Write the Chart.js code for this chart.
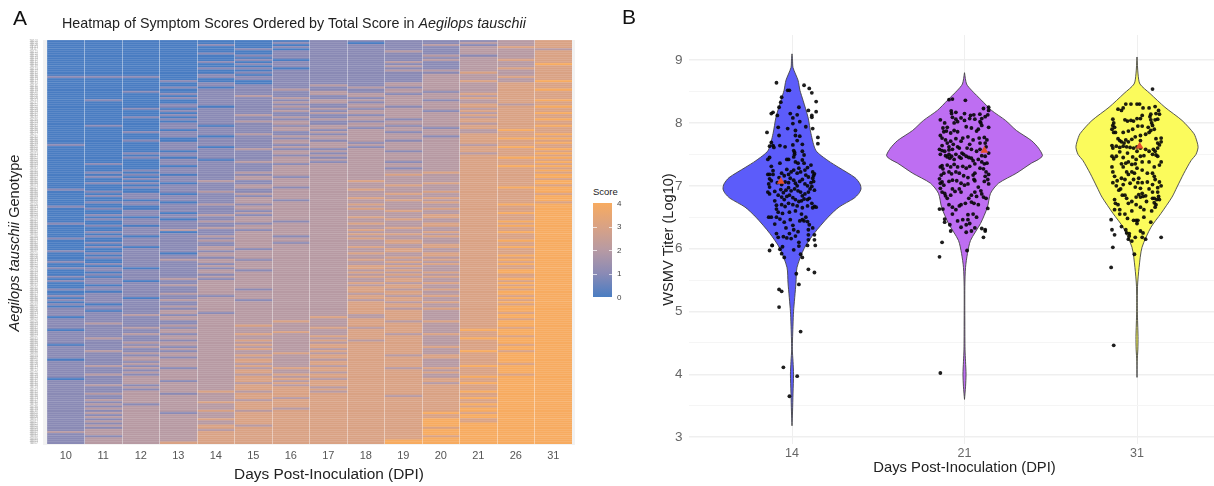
<!DOCTYPE html>
<html><head><meta charset="utf-8">
<script src="https://cdn.jsdelivr.net/npm/chart.js@4"></script>
<style>
html,body{margin:0;padding:0;background:#fff;width:1214px;height:486px;overflow:hidden;font-family:"Liberation Sans",Arial,sans-serif}
#page{position:relative;width:1214px;height:486px;overflow:hidden}
#page>*{position:absolute}
#band{left:43px;top:40px;width:532px;height:405px;background:#f2f2f2}
#heat{left:0;top:0}
#violin{left:620px;top:0}
.letter{font-size:21px;color:#111;line-height:24px}
#ttl{left:62px;top:14px;font-size:14.3px;line-height:18px;color:#222;white-space:nowrap}
#ylab{left:14px;top:243px;font-size:14.6px;line-height:18px;color:#222;white-space:nowrap;transform:translate(-50%,-50%) rotate(-90deg)}
#xlab{left:329px;top:465px;font-size:15.4px;line-height:18px;color:#222;white-space:nowrap;transform:translateX(-50%)}
#lgT{left:593px;top:186px;font-size:9.5px;line-height:12px;color:#222}
#bar{left:593px;top:203px;width:19px;height:94px}
.tk{position:absolute;width:3.5px;height:1px;background:rgba(255,255,255,.7)}
.lb{left:617px;font-size:8px;line-height:9px;color:#444}
</style></head><body>
<div id="page">
<div id="band"></div>
<canvas id="heat" width="590" height="486" style="width:590px;height:486px"></canvas>
<canvas id="violin" width="630" height="486" style="width:630px;height:486px"></canvas>
<div class="letter" style="left:13px;top:6px">A</div>
<div class="letter" style="left:622px;top:5px">B</div>
<div id="ttl">Heatmap of Symptom Scores Ordered by Total Score in <i>Aegilops tauschii</i></div>
<div id="ylab"><i>Aegilops tauschii</i> Genotype</div>
<div id="xlab">Days Post-Inoculation (DPI)</div>
<div id="lgT">Score</div>
<div id="bar"></div>
</div>
<script>
const dpiDays=['10','11','12','13','14','15','16','17','18','19','20','21','26','31'];
const scoreTicks=[0,1,2,3,4];
const scoreColors=['#4a7dc2','#8a8ab5','#b79aa3','#d9a284','#f7ab60'];
// one string per genotype, one digit per DPI column, ordered by total score
const scoreRows=[
"00000001111123","00000011011223","00001001112123","00000011111233","00000101111222","00000011121223","00001011111223","00000111112123",
"00000011111223","00000101112233","00001011121223","00000111111224","00000011121223","00001101111233","00000011122223","00000111111323",
"00001011112223","11101111112233","00000111112223","00010011112324","00001011122233",
"00001112122233","00010111212233","00001121122234","00101112121233","00011112212333","00001211222233","00011121122333","01001112221234",
"00001122122233","00011111222323","00010121212334","00101112122233","00011121221333","00001112222234","00011211122333","00101121222233",
"00011112212334","00001221122333","00011121222233","01010112212334","00011122121333","00001121222243","00111112212233","00011211222334",
"00010122221333","00001112222344","00101121212333","00011122122334","10011112222233","00010122122343","00011211222334","00001122212333",
"00111121222234","00011112222333","00101121222344","00010122222333","00011221212334","01011112222333","00001122222344","00011122212333",
"00111122222334","01011222223333","00101122232334","01011212222334","00111222222333","00012122322334","01101122223334","00011222232333",
"00111212222344","10011122322334","01012122223334","00101222232333","01111122222334","00111222323334","00011212232334","01101222223333",
"00112122322344","10011222222334","01011222323334","00111122232334","00101222222344","01112122223334","00011222323334","01101222232334",
"00112212222344","10111122323334","01011222223344","00112222232334","00121122322334","01101222223344","00111222332334","01012212223334",
"10111222322334","00112222232344","01111212232334","00111222223334","01012222323344","00112122232334","10111222232334","01102222323334",
"00112222223344","01111222232334","00122122323344","10112222232334","01111222223344","00112222332334","11011222322334","01112122232344",
"00112222323344","01111222232334","10112222323334","01121222232344","11012222232334","01112222323344","00122222232334","01112222332344",
"11112122323334","00112222332344","01122222232344","11111222323334","01012222332344","11122122232334","01112222323344","10112222332334",
"01122222332344",
"11112222323344","10122222332344","11121222332334","11212222232344","01122223232344","11122222332334","11112232323344","12112222332344",
"11122322332344","11212223232334","01122222332444","11122232332344","11212322323344","11122223332334","12122222332444","11112323232344",
"11222222332344","01122323332334","11212223333344","11122322332344","12112223332434","11222232332344","11122323323344","11212223333344",
"01222322332344","11122323332344","11222223332334","12122322332444","11212233323344","11122323332344","11222322333344","12122233332334",
"11222323332444","01222332333344","11212323333344","11222233332444","12122323333344","11222332333344","11122333333344","11223232333444",
"12212333333344","11222333323344","11222323333444","12222233333344","11223333333344","12122333333444","11222333333344","12222323333444",
"11223233333444","12212333334344","11222333333444","12222333333444","11223333334344","12222333334344","11222333334444","12223233334444",
"11223333333444","12222333334444","22223333334444","12223333334444","11223333333444","12223333334444","12223333344444","12233333344444"
];
const genotypeCodes=scoreRows.map((r,i)=>'TA'+(101+i*4));
const titerTicks=[3,3.5,4,4.5,5,5.5,6,6.5,7,7.5,8,8.5,9];
const dpiViolin=['14','21','31'];
const level14=[9.1,9.0,8.88,8.68,8.52,8.36,8.09,7.83,7.56,7.4,7.29,7.13,7.03,6.95,6.88,6.8,6.66,6.5,6.24,6.0,5.7,5.45,5,4.8,4.4,4.2,4,3.7,3.4,3.18];
const width14=[0,.003,.006,.035,.046,.064,.093,.11,.139,.209,.272,.365,.394,.4,.388,.359,.272,.209,.128,.07,.029,.023,.009,.006,.002,.006,.009,.006,.003,0];
const level21=[8.8,8.62,8.52,8.36,8.2,8.04,7.88,7.72,7.6,7.48,7.42,7.36,7.2,7.04,6.88,6.66,6.4,6.13,5.92,5.7,5.4,4.8,4.4,4.2,4,3.8,3.6];
const width21=[0,.012,.041,.099,.157,.238,.301,.388,.429,.452,.429,.388,.301,.197,.151,.133,.093,.035,.017,.006,.002,.002,.003,.006,.009,.006,0];
const level31=[9.05,8.78,8.62,8.47,8.25,8.04,7.83,7.7,7.61,7.5,7.4,7.2,6.98,6.82,6.56,6.34,6.02,5.7,5.4,5,4.6,4.4,4.2,3.95];
const width31=[0,.006,.017,.075,.162,.261,.33,.348,.354,.342,.313,.272,.232,.203,.139,.081,.029,.012,.003,.002,.006,.005,.001,0];
const meanJitter=[-.065,.115,.015];
const meanTiter=[7.07,7.56,7.63];
const obs14=[[-.13,5.97],[-.115,6.05],[-.07,5.99],[-.06,5.92],[-.045,5.86],[.025,5.6],[.04,5.43],[.095,5.67],[.13,5.62],[.135,6.05],[.09,6.05],[.04,6.04],[.05,5.91],[.06,5.86],[-.075,5.35],[-.06,5.32],[-.075,5.07],[.05,4.68],[-.05,4.11],[.03,3.97],[-.015,3.65],
[-.09,8.64],[-.025,8.52],[-.015,8.52],[.07,8.6],[.1,8.55],[.115,8.48],[.14,8.34],[-.06,8.41],[-.065,8.33],[-.075,8.25],[.04,8.25],[.095,8.2],[.14,8.18],[.115,8.12],[.115,8.09],[-.12,8.15],[-.11,8.17],[-.085,8.12],[-.01,8.15],[.03,8.13],[.005,8.08],[.045,8.02],[.005,7.99],[.08,7.94],[-.08,7.93],[-.025,7.91],[.12,7.91],[.02,7.88],[-.145,7.85],[-.075,7.8],[.02,7.8],[.045,7.79],[.15,7.77],[.03,7.72],[.15,7.67],[-.12,7.69],[-.11,7.64],[-.13,7.63],[-.105,7.61],[-.07,7.64],[-.04,7.62],[.005,7.65],[.06,7.66],[.015,7.53],[.06,7.55],[.07,7.49],[-.14,7.42],[-.03,7.42],[.015,7.5],[.01,7.56],
[-.13,7.45],[-.07,7.36],[-.12,7.31],[-.11,7.24],[-.14,7.18],[-.13,7.18],[-.11,7.18],[-.13,7.11],[-.12,7.08],[-.135,7.03],[-.13,6.98],[-.14,6.9],[-.13,6.87],[-.1,6.91],[-.1,6.76],[-.09,6.69],[-.09,6.63],[-.08,6.58],[-.055,6.56],[-.135,6.5],[-.12,6.5],[-.09,6.5],[-.07,6.47],[-.1,6.39],[-.045,6.42],[-.01,6.46],[-.09,6.24],[-.08,6.18],[-.05,6.19],[-.03,6.17],[-.005,6.16],[-.115,6.05],
[-.02,7.42],[.01,7.46],[.02,7.38],[.035,7.36],[.04,7.28],[.06,7.41],[.07,7.36],[.075,7.25],[.09,7.29],[.11,7.33],[.12,7.22],[.125,7.16],[.12,7.12],[.13,7.19],[.125,7.07],[.11,7.05],[.095,7.14],[.08,7.17],[.05,7.22],[.03,7.2],[.01,7.25],[-.005,7.22],[-.02,7.18],[-.03,7.26],[-.045,7.16],[-.06,7.2],[-.075,7.13],[-.085,7.05],[-.06,7.02],[-.04,7.06],[-.02,7.05],[-.01,7.12],[.01,7.09],[.02,7.04],[.03,7.0],[.045,7.07],[.06,7.1],[.075,7.03],[.09,7.0],[.105,6.95],[.115,6.99],[.13,6.93],[.095,6.9],[.075,6.87],[.06,6.84],[.05,6.9],[.035,6.92],[.015,6.95],[-.005,6.92],[-.02,6.97],[-.035,6.93],[-.05,6.89],[-.065,6.94],[-.08,6.85],[-.06,6.82],[-.045,6.78],[-.03,6.83],[-.015,6.85],[.005,6.81],[.02,6.78],[.04,6.75],[.055,6.76],[.07,6.79],[.09,6.78],[.1,6.8],[.115,6.72],[.13,6.67],[.14,6.66],[.12,6.65],[.09,6.68],[.06,6.65],[.03,6.68],[.005,6.7],[-.02,6.72],[-.04,6.67],[-.06,6.7],[-.015,6.58],[.02,6.6],[.055,6.55],[.08,6.5],[.06,6.46],[.045,6.44],[.07,6.44],[.09,6.43],[.1,6.38],[.12,6.33],[.095,6.3],[.095,6.22],[.095,6.14],[.13,6.22],[.13,6.14],[.01,6.3],[.005,6.37],[.035,6.27],[-.035,6.33],[-.015,6.24],[.04,6.1],[.01,5.98],[.02,6.2],[-.055,6.03]];
const obs21=[[-.09,8.37],[-.07,8.38],[.005,8.36],[.14,8.25],[.11,8.23],[-.145,6.63],[-.125,6.63],[-.115,6.47],[-.115,6.42],[-.08,6.28],[-.085,6.38],[-.13,6.1],[-.145,5.87],[.015,5.97],[.135,6.64],[.1,6.32],[.12,6.28],[.11,6.18],[-.14,4.02],[.12,6.3],
[-.077,8.19],[-.075,8.15],[-.05,8.17],[0,8.15],[.054,8.13],[.035,8.12],[.089,8.14],[.135,8.13],[.14,8.2],[-.14,8.05],[-.115,8.0],[-.07,8.09],[-.05,8.06],[-.04,8.02],[-.06,8.0],[.03,8.07],[.06,8.06],[.1,8.07],[.09,8.02],[.12,8.1],[.0,8.04],[-.02,8.08],[.1,7.96],[.095,8.0],[-.1,7.93],[-.125,7.92],[-.12,7.86],[-.105,7.87],[-.06,7.88],[-.08,7.84],[-.04,7.86],[.01,7.94],[.04,7.92],[.08,7.9],[.07,7.87],[.14,7.93],[-.14,7.8],[-.13,7.76],[-.11,7.73],[-.08,7.71],[-.05,7.75],[-.01,7.76],[.02,7.78],[.05,7.73],[.085,7.76],[.115,7.77],[.13,7.73],[.12,7.68],[.09,7.68],[.03,7.66],[-.02,7.71],[-.065,7.66],[-.09,7.62],[-.1,7.68],[-.13,7.64],[-.145,7.58],[-.13,7.56],[-.115,7.55],[-.09,7.57],[-.07,7.58],[-.04,7.62],[-.03,7.6],[-.015,7.52],[.015,7.6],[.04,7.58],[.07,7.55],[.09,7.58],[.125,7.62],[.14,7.52],[.12,7.47],[.1,7.48],[.08,7.42],[-.14,7.5],[-.11,7.48],[-.09,7.5],[-.075,7.47],[-.05,7.5],[-.03,7.46],[-.005,7.5],[.01,7.47],[.025,7.45],[.04,7.44],[.05,7.4],[-.02,7.44],[-.06,7.42],[-.085,7.44],[-.1,7.46],[-.13,7.32],[-.14,7.3],[-.125,7.27],[-.1,7.33],[-.08,7.3],[-.06,7.34],[-.04,7.3],[-.01,7.31],[.01,7.28],[.03,7.31],[.06,7.35],[.1,7.38],[.115,7.35],[.13,7.36],[.09,7.28],[.11,7.27],[.125,7.22],[.14,7.18],[.12,7.15],[.135,7.1],[.14,7.03],[.115,7.07],[.06,7.2],[.05,7.17],[.055,7.1],[.06,7.08],[.02,7.13],[-.005,7.16],[-.03,7.2],[-.05,7.22],[-.075,7.19],[-.09,7.22],[-.12,7.2],[-.135,7.17],[-.145,7.11],[-.13,7.06],[-.14,7.04],[-.12,7.01],[-.09,7.07],[-.07,7.09],[-.045,7.08],[-.02,7.04],[.0,7.01],[.02,7.03],[-.14,6.96],[-.13,6.9],[-.115,6.88],[-.11,6.84],[-.1,6.8],[-.08,6.85],[-.07,6.95],[-.055,6.91],[-.03,6.95],[-.02,6.9],[.08,6.98],[.095,6.92],[.1,6.87],[.11,6.82],[.125,6.8],[.06,6.9],[.07,6.83],[.04,6.74],[.055,6.72],[.08,6.7],[-.09,6.7],[-.07,6.66],[-.05,6.62],[-.03,6.68],[-.02,6.7],[-.07,6.55],[.02,6.54],[-.01,6.46],[.02,6.46],[.01,6.38],[.03,6.4],[.07,6.5],[-.04,6.44],[-.02,6.34],[.06,6.33],[.04,6.28],[.01,6.26],[.005,6.72],[.05,6.55],[.025,6.8],[.04,6.85]];
const obs31=[[.09,8.54],[-.15,6.46],[-.145,6.3],[-.13,6.22],[-.14,6.02],[-.15,5.7],[.14,6.18],[-.135,4.46],[-.015,5.91],[-.045,6.2],
[-.065,8.3],[-.035,8.3],[.0,8.3],[.015,8.3],[-.11,8.22],[-.09,8.2],[-.08,8.24],[.035,8.24],[.07,8.24],[.105,8.26],[.125,8.2],[.13,8.14],[.11,8.15],[.08,8.14],[.075,8.1],[.03,8.12],[.02,8.07],[.0,8.07],[-.02,8.03],[-.035,8.04],[-.055,8.03],[-.07,8.05],[-.14,8.06],[-.135,8.0],[-.14,7.96],[-.145,7.9],[-.13,7.93],[-.125,7.85],[-.135,7.85],[.08,8.05],[.085,8.0],[.09,7.96],[.105,8.05],[.12,8.06],[.1,7.9],[.08,7.88],[.07,7.85],[.065,7.93],[.03,7.95],[.005,7.95],[-.025,7.9],[-.05,7.87],[-.08,7.85],[-.11,7.75],[-.1,7.72],[-.09,7.7],[-.075,7.68],[-.065,7.73],[-.05,7.7],[-.03,7.74],[-.01,7.78],[.02,7.8],[.05,7.82],[.11,7.75],[.14,7.76],[.14,7.7],[.12,7.68],[-.145,7.64],[-.14,7.6],[-.12,7.63],[-.1,7.61],[-.08,7.63],[-.06,7.62],[-.04,7.61],[-.02,7.6],[.0,7.62],[.02,7.6],[.05,7.58],[.07,7.55],[.09,7.5],[.105,7.55],[.12,7.6],[.13,7.65],[.095,7.58],[.11,7.49],[.12,7.47],[-.145,7.47],[-.135,7.43],[-.12,7.47],[-.1,7.54],[-.055,7.52],[-.025,7.46],[-.005,7.42],[.02,7.47],[.04,7.48],[-.09,7.35],[-.08,7.3],[-.065,7.36],[-.05,7.38],[-.03,7.34],[-.01,7.35],[.03,7.38],[.07,7.38],[.14,7.38],[.13,7.33],[.1,7.3],[-.145,7.3],[-.14,7.22],[-.13,7.15],[-.06,7.22],[-.05,7.18],[-.03,7.22],[-.015,7.2],[.0,7.28],[.03,7.25],[.06,7.2],[.09,7.2],[.1,7.15],[.105,7.1],[-.115,7.08],[-.09,7.12],[-.07,7.1],[-.04,7.04],[-.02,7.1],[.01,7.12],[.03,7.05],[.06,7.06],[.13,7.06],[.14,7.0],[.12,6.97],[-.14,7.05],[-.12,7.0],[-.08,7.02],[.09,7.02],[.07,6.95],[-.01,6.98],[.02,6.96],[.03,6.88],[.01,6.86],[-.005,6.82],[.02,6.82],[.035,6.83],[.05,6.84],[.09,6.8],[.1,6.8],[.115,6.78],[.13,6.78],[.125,6.83],[.1,6.73],[.11,6.7],[.105,6.66],[.09,6.9],[.12,6.9],[-.13,6.78],[-.125,6.72],[-.11,6.7],[-.085,6.85],[-.07,6.85],[-.06,6.8],[-.05,6.72],[-.03,6.75],[-.005,6.7],[.02,6.66],[.04,6.62],[-.13,6.62],[-.1,6.62],[-.07,6.55],[-.03,6.6],[-.055,6.48],[-.02,6.45],[-.005,6.45],[.005,6.45],[.04,6.5],[-.065,6.3],[-.06,6.25],[-.045,6.24],[-.05,6.15],[.02,6.28],[.035,6.25],[.03,6.18],[.05,6.15],[-.01,6.18],[-.03,6.12],[.0,6.4],[.08,6.42],[-.09,6.35],[-.1,6.55],[.085,6.6],[.055,6.75],[-.095,6.95],[-.105,6.93],[.005,7.05],[-.08,7.45],[.0,7.55],[.02,7.72]];

// gradient colour bar in the legend, built from the same stops as the cells
const bar=document.getElementById('bar');
bar.style.background='linear-gradient(to top,'+scoreColors.join(',')+')';
const page=document.getElementById('page');
scoreTicks.forEach(t=>{
  const frac=t/4;
  const l=document.createElement('div');l.className='lb';l.textContent=t;
  l.style.top=(297-frac*94-4.5)+'px';page.appendChild(l);
  if(t>0&&t<4){
    ['left:0','right:0'].forEach(side=>{
      const k=document.createElement('div');k.className='tk';
      k.style.cssText+=side+';top:'+(94-frac*94)+'px';bar.appendChild(k);
    });
  }
});

const sharedFont='"Liberation Sans",Arial,sans-serif';
Chart.defaults.font.family=sharedFont;
Chart.defaults.animation=false;

new Chart(document.getElementById('heat'),{
  type:'bar',
  data:{
    labels:genotypeCodes,
    datasets:dpiDays.map((d,c)=>({
      label:d,
      data:scoreRows.map(()=>1),
      backgroundColor:ctx=>scoreColors[+scoreRows[ctx.dataIndex][c]],
      borderWidth:0,
      categoryPercentage:1,
      barPercentage:1
    }))
  },
  options:{
    indexAxis:'y',responsive:false,
    layout:{padding:{top:40,right:18,bottom:0,left:0}},
    plugins:{legend:{display:false},tooltip:{enabled:false}},
    scales:{
      x:{
        stacked:true,min:0,max:14,
        afterFit:s=>{s.height=42},
        border:{display:false},
        grid:{z:1,drawTicks:false,lineWidth:1,color:c=>Number.isInteger(c.tick.value)&&c.tick.value>0&&c.tick.value<14?'rgba(255,255,255,.42)':'transparent'},
        ticks:{stepSize:.5,autoSkip:false,maxRotation:0,padding:5,color:'#555',font:{size:11},
          callback:v=>v%1?dpiDays[Math.floor(v)]:''}
      },
      y:{
        stacked:true,
        afterFit:s=>{s.width=47},
        border:{display:false},
        grid:{z:1,drawTicks:false,color:'rgba(255,255,255,.18)',lineWidth:.6},
        ticks:{autoSkip:false,padding:9,color:'#a8a8a8',font:{size:3}}
      }
    }
  }
});

function outline(levels,widths,pos){
  const right=levels.map((v,i)=>({x:pos+widths[i],y:v}));
  const left=levels.map((v,i)=>({x:pos-widths[i],y:v})).reverse();
  return right.concat(left);
}
const violinFills=['#5c5cfa','#be6ef2','#fbfb5c'];
const violinShapes=[[level14,width14],[level21,width21],[level31,width31]];
const obsSets=[obs14,obs21,obs31];
const datasets=[];
violinShapes.forEach((s,i)=>{
  datasets.push({type:'scatter',data:outline(s[0],s[1],i+1),showLine:true,fill:'shape',tension:.25,backgroundColor:violinFills[i],borderColor:'#444',borderWidth:.9,pointRadius:0,order:3});
});
obsSets.forEach((o,i)=>{
  datasets.push({type:'scatter',data:o.map(p=>({x:i+1+p[0],y:p[1]})),backgroundColor:'rgba(5,5,5,.9)',borderWidth:0,pointRadius:1.9,order:2});
});
datasets.push({type:'scatter',data:meanTiter.map((v,i)=>({x:i+1+meanJitter[i],y:v})),pointStyle:'triangle',pointRadius:4.5,backgroundColor:'#e5502c',borderWidth:0,order:1});

new Chart(document.getElementById('violin'),{
  type:'scatter',
  data:{datasets},
  options:{
    responsive:false,
    layout:{padding:{top:35,right:9.5,bottom:0,left:0}},
    plugins:{legend:{display:false},tooltip:{enabled:false}},
    scales:{
      x:{
        type:'linear',min:.4,max:3.6,
        afterFit:s=>{s.height=42},
        afterBuildTicks:s=>{s.ticks=[1,2,3].map(value=>({value}))},
        border:{display:false},
        grid:{drawTicks:false,color:'#efefef',lineWidth:1},
        ticks:{autoSkip:false,maxRotation:0,padding:2,color:'#666',font:{size:12.5},callback:v=>dpiViolin[v-1]},
        title:{display:true,text:'Days Post-Inoculation (DPI)',color:'#222',font:{size:14.8},padding:{top:0,bottom:9}}
      },
      y:{
        type:'linear',min:2.89,max:9.4,
        afterFit:s=>{s.width=68.5},
        afterBuildTicks:s=>{s.ticks=titerTicks.map(value=>({value}))},
        border:{display:false},
        grid:{drawTicks:false,lineWidth:c=>Number.isInteger(c.tick.value)?1.5:1,color:c=>Number.isInteger(c.tick.value)?'#efefef':'#f5f5f5'},
        ticks:{autoSkip:false,padding:6,color:'#666',font:{size:13.5},callback:v=>Number.isInteger(v)?String(v):''},
        title:{display:true,text:'WSMV Titer (Log10)',color:'#222',font:{size:14.6},padding:{top:40,bottom:0}}
      }
    }
  }
});
</script>
</body></html>
